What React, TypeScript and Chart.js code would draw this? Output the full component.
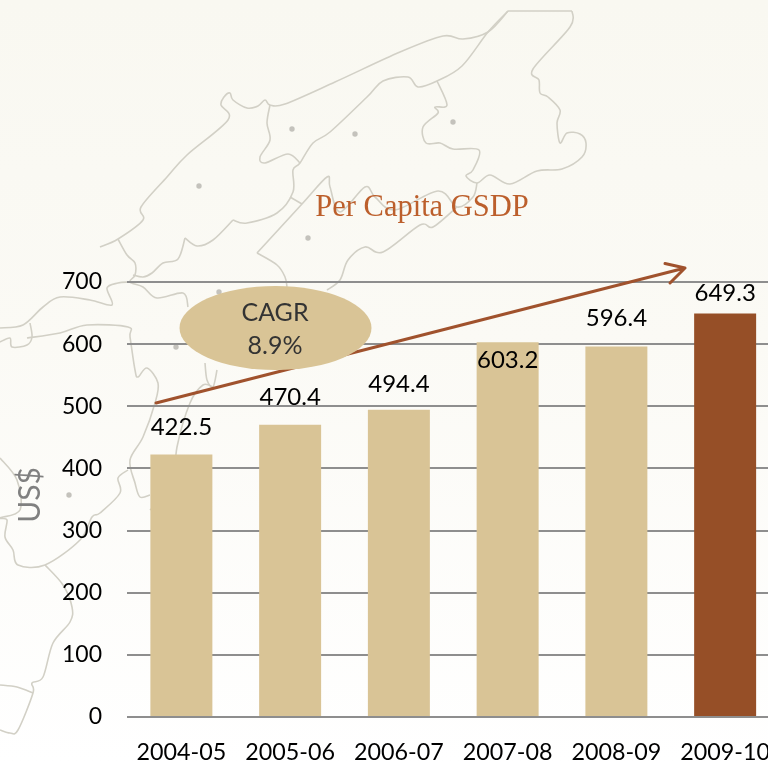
import React, { useEffect, useRef } from "react";
import { Chart, registerables } from "chart.js";

Chart.register(...registerables);

const categories = ["2004-05", "2005-06", "2006-07", "2007-08", "2008-09", "2009-10"];
const perCapitaGsdp = [422.5, 470.4, 494.4, 603.2, 596.4, 649.3];
const barColors = ["#D9C496", "#D9C496", "#D9C496", "#D9C496", "#D9C496", "#964F27"];
const yTicks = [0, 100, 200, 300, 400, 500, 600, 700];
const titleText = "Per Capita GSDP";
const axisTitle = "US$";
const cagrLines = ["CAGR", "8.9%"];

const FONT = "Lato, 'Open Sans', sans-serif";

// Decorative backdrop (state outlines), not data
const mapLines = [
  "100,247 118,239 143,220 141,207 167,177 187,155 228,120 221,105 224,97 230,93 233,100 247,108 258,106 265,100 270,105 285,104 335,82 400,52 443,36 463,39 488,32 508,11",
  "508,11 572,11",
  "572,11 570,27 533,69 539,80 540,93 548,97 560,110 557,123 560,143 567,133 580,134 586,143 582,157 562,169 537,171 510,184 490,175 477,183 466,176 473,170 479,150 453,149 440,143 426,143 423,127 438,113 435,107 447,105 437,81",
  "508,11 488,32 462,66 437,81 418,87 408,77 383,81 367,97 330,132 313,143 300,163 293,170 293,192 277,213 247,223 233,220",
  "233,220 213,240 197,246 185,238",
  "185,238 178,259 163,263 152,273 143,277 133,275",
  "270,105 267,123 270,140 260,157 265,163 288,154 300,163",
  "290,197 302,204",
  "257,253 302,204 327,177 330,187 340,212 365,187 375,197 395,210 438,191 457,207 473,197 477,183",
  "457,207 433,227 420,225 383,252 365,247 348,260 340,280 327,290",
  "257,253 277,265 285,277 287,287",
  "118,239 127,255 135,263 135,275 130,282 143,287 157,298 183,293 188,307",
  "0,328 23,325 43,307 60,297 90,300 112,305 107,288 118,283 128,282",
  "30,323 32,337 27,345 12,347 10,338 0,342",
  "27,338 60,333 87,325 128,327 130,337 135,370 138,377 147,368 158,383 155,403 143,437 130,460 135,483 140,497 150,495",
  "205,363 207,380 213,387 217,370",
  "213,387 203,385 190,403 177,447 172,490 150,510",
  "0,458 17,480 20,510 0,518 7,520 5,537 13,550 18,565 45,565 80,540 92,517 100,513 120,493 118,478 128,470",
  "45,565 63,585 72,607 70,622 53,643 43,677 32,683 33,693 18,730 10,733 0,730",
  "0,685 17,687 33,693",
];
const mapDots = [
  [199, 186], [292, 129], [355, 134], [453, 122], [308, 238], [176, 347], [69, 495], [219, 292],
];

// Rounds an outline through its traced vertices
function smoothPath(points: string) {
  const p = points.split(" ").map((s) => s.split(",").map(Number));
  let d = `M${p[0][0]},${p[0][1]}`;
  for (let i = 0; i < p.length - 1; i++) {
    const a = p[Math.max(i - 1, 0)];
    const b = p[i];
    const c = p[i + 1];
    const e = p[Math.min(i + 2, p.length - 1)];
    const c1 = [b[0] + (c[0] - a[0]) / 6, b[1] + (c[1] - a[1]) / 6];
    const c2 = [c[0] - (e[0] - b[0]) / 6, c[1] - (e[1] - b[1]) / 6];
    d += ` C${c1[0]},${c1[1]} ${c2[0]},${c2[1]} ${c[0]},${c[1]}`;
  }
  return d;
}

// Hand-placed label lifts above each bar, as in the reference
const labelLift = [27, 27, 26, -18, 28, 20];

const decorations = {
  id: "decorations",
  afterDatasetsDraw(chart: any) {
    const { ctx } = chart;
    const meta = chart.getDatasetMeta(0);
    ctx.save();

    // Trend arrow
    ctx.strokeStyle = "#A0522D";
    ctx.lineWidth = 3;
    ctx.lineCap = "round";
    ctx.lineJoin = "round";
    ctx.beginPath();
    ctx.moveTo(156, 403);
    ctx.lineTo(685, 268);
    ctx.moveTo(665, 263.5);
    ctx.lineTo(685, 268);
    ctx.lineTo(670, 283);
    ctx.stroke();

    // CAGR ellipse
    ctx.fillStyle = "#D9C496";
    ctx.beginPath();
    ctx.ellipse(275.5, 328, 96, 42, 0, 0, Math.PI * 2);
    ctx.fill();
    ctx.fillStyle = "#333333";
    ctx.font = `25px ${FONT}`;
    ctx.textAlign = "center";
    ctx.textBaseline = "middle";
    ctx.fillText(cagrLines[0], 275, 313);
    ctx.fillText(cagrLines[1], 275, 346);

    // Value labels
    ctx.fillStyle = "#000000";
    ctx.font = `24px ${FONT}`;
    perCapitaGsdp.forEach((v, i) => {
      const el = meta.data[i];
      ctx.fillText(v.toFixed(1), el.x, el.y - labelLift[i]);
    });

    // Chart title
    ctx.fillStyle = "#BC5F2C";
    ctx.font = "30.5px 'Liberation Serif', serif";
    ctx.fillText(titleText, 422, 208);

    // Axis title
    ctx.save();
    ctx.translate(30, 495);
    ctx.rotate(-Math.PI / 2);
    ctx.fillStyle = "#808080";
    ctx.font = `30px ${FONT}`;
    ctx.fillText(axisTitle, 0, 0);
    ctx.restore();

    ctx.restore();
  },
};

export default function App() {
  const ref = useRef<HTMLCanvasElement>(null);
  useEffect(() => {
    const chart = new Chart(ref.current!, {
      type: "bar",
      data: {
        labels: categories,
        datasets: [
          {
            data: perCapitaGsdp,
            backgroundColor: barColors,
            categoryPercentage: 1,
            barPercentage: 0.57,
          },
        ],
      },
      options: {
        animation: false,
        responsive: false,
        layout: { padding: { top: 282, left: 0, right: 0, bottom: 0 } },
        plugins: { legend: { display: false }, tooltip: { enabled: false } },
        scales: {
          x: {
            grid: { display: false },
            border: { display: false },
            afterFit: (s: any) => {
              s.height = 46;
            },
            ticks: {
              color: "#000000",
              font: { family: FONT, size: 23.3 },
              padding: 13,
              maxRotation: 0,
              autoSkip: false,
            },
          },
          y: {
            min: 0,
            max: 700,
            afterFit: (s: any) => {
              s.width = 127;
            },
            afterBuildTicks: (s: any) => {
              s.ticks = yTicks.map((value) => ({ value }));
            },
            border: { display: false },
            grid: { color: "#8E8E8E", lineWidth: 2, drawTicks: false },
            ticks: {
              color: "#000000",
              font: { family: FONT, size: 23 },
              padding: 25,
            },
          },
        },
      },
      plugins: [decorations],
    } as any);
    return () => chart.destroy();
  }, []);

  return (
    <div
      style={{
        position: "fixed",
        left: 0,
        top: 0,
        width: 768,
        height: 763,
        overflow: "hidden",
        background: "linear-gradient(180deg, #F9F8F1 0%, #FBFAF5 45%, #FFFFFF 100%)",
      }}
    >
      <svg width={768} height={763} style={{ position: "absolute", left: 0, top: 0 }}>
        {mapLines.map((pts, i) => (
          <path key={i} d={smoothPath(pts)} fill="none" stroke="#D2D0C6" strokeWidth={1.6} strokeLinejoin="round" />
        ))}
        {mapDots.map(([cx, cy], i) => (
          <circle key={i} cx={cx} cy={cy} r={2.7} fill="#C4C2BC" />
        ))}
      </svg>
      <canvas
        ref={ref}
        width={783}
        height={763}
        style={{ position: "absolute", left: 0, top: 0, display: "block" }}
      />
    </div>
  );
}
